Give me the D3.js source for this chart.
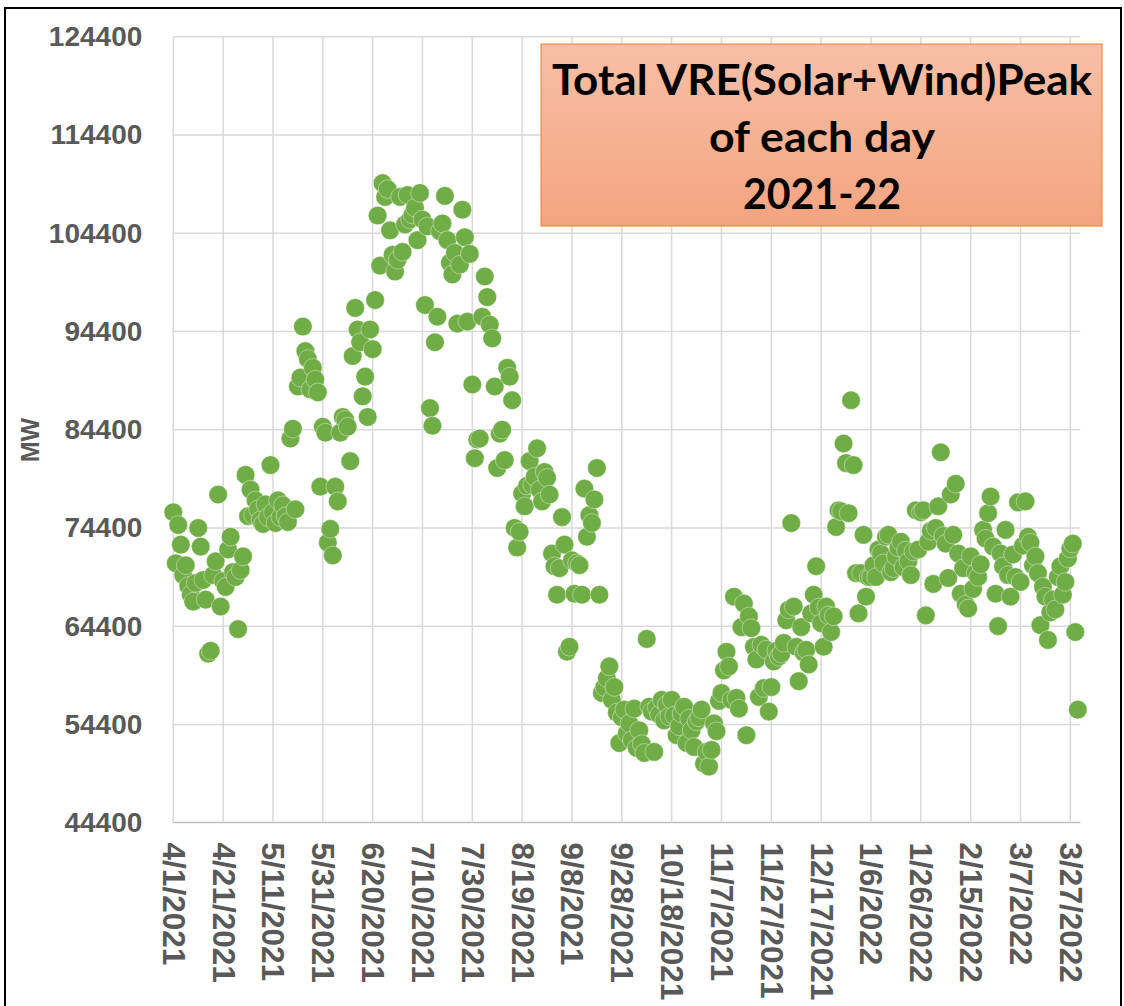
<!DOCTYPE html>
<html>
<head>
<meta charset="utf-8">
<script src="https://cdn.jsdelivr.net/npm/d3@7"></script>
<style>
  body { margin: 0; background: #fff; }
</style>
</head>
<body>
<svg id="chart" width="1124" height="1006"></svg>
<script>
// daily peak of solar + wind, one value per day starting 4/1/2021
const startDay = "2021-04-01";
const endDay = "2022-03-31";

const dailyPeakMW = [
  76000, 70800, 74700, 72700, 69600, 70600, 68500, 67600, 66900, 68800, 74400, 72500, 69100, 67100, 61600, 61900, 69600, 71000, 77800, 66400,
  69000, 68400, 72200, 73500, 69900, 69400, 64100, 70100, 71500, 79800, 75600, 78300, 75700, 77200, 76300, 75200, 74800, 76800, 75500, 80800,
  76000, 74900, 77200, 75500, 76700, 75600, 75000, 83500, 84500, 76300, 88800, 89700, 94900, 92400, 91600, 88500, 90700, 89500, 88200, 78600,
  84700, 84100, 72900, 74300, 71600, 78600, 77100, 84100, 85700, 85400, 84700, 81200, 91900, 96800, 94600, 93300, 87800, 89800, 85700, 94600,
  92600, 97600, 106200, 101100, 109500, 108100, 108900, 104700, 102200, 100500, 101700, 108100, 102500, 105300, 108300, 105800, 106300, 107000, 103700, 108500,
  105800, 97100, 105100, 86600, 84800, 93300, 95900, 104600, 105400, 108200, 103700, 101400, 100200, 102400, 95200, 101200, 106800, 104000, 95400, 102300,
  89000, 81500, 83400, 83500, 95900, 100000, 97900, 95100, 93700, 88800, 80500, 84000, 84400, 81300, 90700, 89800, 87400, 74400, 72400, 74000,
  77900, 76600, 78700, 81200, 78800, 79600, 82500, 78300, 77100, 80100, 79500, 77800, 71800, 70500, 67600, 70300, 75500, 72700, 61800, 62300,
  71100, 67700, 70800, 70600, 67600, 78400, 73500, 75700, 74900, 77300, 80500, 67600, 57600, 58200, 59100, 60300, 56900, 58200, 55600, 52500,
  55100, 55900, 53500, 54500, 52800, 56000, 52000, 53800, 52400, 51500, 63100, 56200, 55700, 51600, 56100, 55400, 56900, 54800, 56400, 55200,
  56900, 55300, 53300, 54200, 55500, 56200, 52500, 55000, 53800, 52100, 54700, 55100, 55900, 50400, 51600, 50100, 51800, 54500, 53700, 56800,
  57600, 59900, 61800, 60300, 56900, 67400, 57100, 56000, 64300, 66700, 53300, 65400, 64200, 62300, 61000, 57200, 62500, 58100, 62000, 55700,
  58200, 60800, 61900, 61300, 61600, 62700, 65000, 66100, 74900, 66400, 62300, 58800, 64300, 61700, 62000, 60500, 65700, 67600, 70500, 66300,
  64700, 62300, 66400, 65500, 63800, 65400, 74500, 76200, 76100, 83000, 81000, 75900, 87400, 80800, 69800, 65700, 69800, 73700, 67400, 69400,
  69400, 70600, 69400, 72200, 71800, 70800, 73500, 73700, 69900, 70300, 71500, 72400, 73000, 70400, 72100, 71000, 69600, 72000, 76200, 72200,
  76000, 76200, 65500, 73000, 74100, 68700, 74400, 76600, 82100, 73600, 72800, 69300, 77800, 73700, 78900, 71800, 67700, 70300, 66600, 66200,
  71500, 68200, 69800, 69400, 70700, 74200, 73300, 75900, 77600, 72500, 67700, 64400, 71800, 70500, 74200, 69600, 67400, 71700, 69400, 77000,
  68900, 72600, 77100, 73500, 72900, 70600, 71500, 69800, 64500, 68400, 67400, 63000, 65800, 67100, 66100, 69400, 70500, 67600, 68900, 71300,
  72300, 72800, 63800, 55900
];

const yTicks = [44400, 54400, 64400, 74400, 84400, 94400, 104400, 114400, 124400];
const xTickLabels = ["4/1/2021", "4/21/2021", "5/11/2021", "5/31/2021", "6/20/2021", "7/10/2021",
  "7/30/2021", "8/19/2021", "9/8/2021", "9/28/2021", "10/18/2021", "11/7/2021", "11/27/2021",
  "12/17/2021", "1/6/2022", "1/26/2022", "2/15/2022", "3/7/2022", "3/27/2022"];
const titleLines = ["Total VRE(Solar+Wind)Peak", "of each day", "2021-22"];

const svg = d3.select("#chart");
const plotLeft = 173.3, plotRight = 1080.3, plotTop = 36.8, plotBottom = 822.6;
const axisFont = "'Liberation Sans', Arial, sans-serif";
const grey = "#595959";

const parseIso = d3.utcParse("%Y-%m-%d");
const parseTick = d3.utcParse("%-m/%-d/%Y");
const t0 = parseIso(startDay);

const x = d3.scaleUtc().domain([t0, parseIso(endDay)]).range([plotLeft, plotRight]);
const y = d3.scaleLinear().domain([44400, 124400]).range([plotBottom, plotTop]);

const points = dailyPeakMW.map((v, i) => ({ date: d3.utcDay.offset(t0, i), value: v }));
const tickDates = xTickLabels.map(parseTick);

// outer frame
svg.append("rect")
  .attr("x", 5).attr("y", 8)
  .attr("width", 1116).attr("height", 1012)
  .attr("fill", "none").attr("stroke", "#000").attr("stroke-width", 2);

// grid
const grid = svg.append("g");
grid.selectAll(".hg").data(yTicks).join("line")
  .attr("x1", plotLeft).attr("x2", plotRight)
  .attr("y1", d => y(d)).attr("y2", d => y(d))
  .attr("stroke", d => d === 44400 ? "#bfbfbf" : "#d9d9d9")
  .attr("stroke-width", 1.5);
grid.selectAll(".vg").data(tickDates).join("line")
  .attr("x1", d => x(d)).attr("x2", d => x(d))
  .attr("y1", plotTop).attr("y2", plotBottom)
  .attr("stroke", "#d9d9d9")
  .attr("stroke-width", 1.5);

// y axis labels
const yAxis = d3.axisLeft(y).tickValues(yTicks).tickSize(0).tickPadding(31).tickFormat(d3.format("d"));
svg.append("g").attr("transform", `translate(${plotLeft},0)`).call(yAxis)
  .call(g => g.select(".domain").remove())
  .selectAll("text")
  .attr("fill", grey).attr("font-family", axisFont)
  .attr("font-weight", "bold").attr("font-size", 28);

// x axis labels, rotated
const xAxis = d3.axisBottom(x).tickValues(tickDates).tickSize(0)
  .tickFormat((d, i) => xTickLabels[i]);
svg.append("g").attr("transform", `translate(0,${plotBottom})`).call(xAxis)
  .call(g => g.select(".domain").remove())
  .selectAll("text")
  .attr("fill", grey).attr("font-family", axisFont)
  .attr("font-weight", "bold").attr("font-size", 31.5)
  .attr("text-anchor", "start")
  .attr("y", 0).attr("dy", "0.35em")
  .attr("transform", "translate(0,20) rotate(90)");

// MW label
svg.append("text")
  .attr("transform", "translate(39,440) rotate(-90)")
  .attr("text-anchor", "middle")
  .attr("fill", grey).attr("font-family", axisFont)
  .attr("font-weight", "bold").attr("font-size", 25)
  .text("MW");

// markers
svg.append("g").selectAll("circle").data(points).join("circle")
  .attr("cx", d => x(d.date))
  .attr("cy", d => y(d.value))
  .attr("r", 9.3)
  .attr("fill", "#70ad47")
  .attr("stroke", "#ffffff").attr("stroke-width", 0.4);

// title box
const defs = svg.append("defs");
const grad = defs.append("linearGradient").attr("id", "titleFill")
  .attr("x1", 0).attr("y1", 0).attr("x2", 0).attr("y2", 1);
grad.append("stop").attr("offset", "0%").attr("stop-color", "#f7bfa6");
grad.append("stop").attr("offset", "100%").attr("stop-color", "#f4a47f");

svg.append("rect")
  .attr("x", 541).attr("y", 44).attr("width", 561).attr("height", 182)
  .attr("fill", "url(#titleFill)")
  .attr("stroke", "#ed7d31").attr("stroke-width", 1);

const titleWidths = [540, 226, 158];
svg.append("g").selectAll("text").data(titleLines).join("text")
  .attr("x", 822).attr("y", (d, i) => 95 + i * 57)
  .attr("text-anchor", "middle")
  .attr("font-family", "Lato, 'Open Sans', sans-serif")
  .attr("font-weight", "bold").attr("font-size", 42)
  .attr("fill", "#000")
  .attr("textLength", (d, i) => titleWidths[i])
  .attr("lengthAdjust", "spacingAndGlyphs")
  .text(d => d);
</script>
</body>
</html>
